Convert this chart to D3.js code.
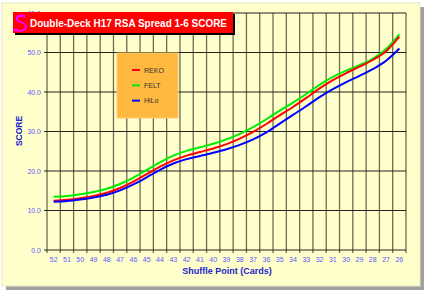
<!DOCTYPE html>
<html>
<head>
<title>Double-Deck H17 RSA Spread 1-6 SCORE</title>
<script src="https://d3js.org/d3.v7.min.js"></script>
<style>
  body { margin: 0; background: #fff; }
  svg { display: block; font-family: Arial, "Liberation Sans", sans-serif; }
</style>
</head>
<body>
<svg id="chart" width="427" height="294"></svg>
<script>
// shuffle points, left to right
const cards = [52, 51, 50, 49, 48, 47, 46, 45, 44, 43, 42, 41, 40, 39, 38, 37, 36, 35, 34, 33, 32, 31, 30, 29, 28, 27, 26];

const reko = [12.5, 12.7, 13.1, 13.7, 14.5, 15.7, 17.3, 19.2, 21.1, 22.7, 23.9, 24.8, 25.7, 26.8, 28.2, 29.9, 31.9, 34.1, 36.2, 38.5, 40.9, 43.0, 44.8, 46.4, 48.1, 50.3, 54.0];
const felt = [13.5, 13.7, 14.1, 14.7, 15.5, 16.7, 18.3, 20.3, 22.2, 23.9, 25.1, 26.0, 26.9, 28.0, 29.4, 31.1, 33.1, 35.3, 37.3, 39.5, 41.8, 43.8, 45.4, 46.8, 48.4, 50.9, 54.6];
const hilo = [12.2, 12.4, 12.8, 13.3, 14.0, 15.1, 16.6, 18.4, 20.3, 21.9, 23.0, 23.8, 24.6, 25.5, 26.6, 28.0, 29.8, 32.0, 34.2, 36.4, 38.7, 40.7, 42.5, 44.1, 45.8, 47.9, 51.0];

const seriesNames = ['REKO', 'FELT', 'HiLo'];
const seriesColors = ['#ff0000', '#00ee00', '#0000ff'];
const yTicks = [0, 10, 20, 30, 40, 50, 60];

const svg = d3.select('#chart');
const m = { left: 47, right: 406, top: 13, bottom: 250 };

// outer frame with shadow
svg.append('rect').attr('x', 6).attr('y', 7).attr('width', 418).attr('height', 283).attr('fill', '#a0a0a0');
svg.append('rect').attr('x', 2).attr('y', 3).attr('width', 418).attr('height', 283)
    .attr('fill', '#ffffcc').attr('stroke', '#e8e8c0');

const x = d3.scaleBand().domain(cards).range([m.left, m.right]);
const y = d3.scaleLinear().domain([0, 60]).range([m.bottom, m.top]);

const grid = svg.append('g');
// vertical gridlines at band edges
const edges = cards.map(c => x(c)).concat([m.right]);
grid.selectAll('line.v').data(edges).join('line')
    .attr('x1', d => d).attr('x2', d => d)
    .attr('y1', m.top).attr('y2', m.bottom + 3)
    .attr('stroke', '#6e6a4c').attr('stroke-width', 1.3);
// horizontal gridlines
grid.selectAll('line.h').data(yTicks).join('line')
    .attr('x1', m.left - 3).attr('x2', m.right)
    .attr('y1', d => y(d)).attr('y2', d => y(d))
    .attr('stroke', '#222').attr('stroke-width', 1);

// y tick labels
svg.append('g').selectAll('text').data(yTicks).join('text')
    .attr('x', 41).attr('y', d => y(d) + 2.5)
    .attr('text-anchor', 'end')
    .attr('font-size', 7).attr('fill', '#5a5aff')
    .text(d => d.toFixed(1));

// x tick labels
svg.append('g').selectAll('text').data(cards).join('text')
    .attr('x', d => x(d) + x.bandwidth() / 2).attr('y', 262)
    .attr('text-anchor', 'middle')
    .attr('font-size', 7).attr('fill', '#5a5aff')
    .text(d => d);

// axis titles
svg.append('text')
    .attr('transform', 'translate(22,131) rotate(-90)')
    .attr('text-anchor', 'middle')
    .attr('font-size', 8.5).attr('font-weight', 'bold').attr('fill', '#2222cc')
    .text('SCORE');
svg.append('text')
    .attr('x', 227).attr('y', 274)
    .attr('text-anchor', 'middle')
    .attr('font-size', 9).attr('font-weight', 'bold').attr('fill', '#2222cc')
    .text('Shuffle Point (Cards)');

// lines
const line = d3.line()
    .x((d, i) => x(cards[i]) + x.bandwidth() / 2)
    .y(d => y(d))
    .curve(d3.curveMonotoneX);
[[felt, 1], [reko, 0], [hilo, 2]].forEach(([vals, idx]) => {
    svg.append('path').datum(vals)
        .attr('d', line)
        .attr('fill', 'none')
        .attr('stroke', seriesColors[idx])
        .attr('stroke-width', 2);
});

// legend
const lg = svg.append('g');
lg.append('rect').attr('x', 117).attr('y', 53).attr('width', 61).attr('height', 65)
    .attr('fill', '#ffb941').attr('stroke', '#ffcc66');
seriesNames.forEach((name, i) => {
    const ly = 70 + i * 15.3;
    lg.append('line').attr('x1', 132).attr('x2', 140).attr('y1', ly).attr('y2', ly)
        .attr('stroke', seriesColors[i]).attr('stroke-width', 2);
    lg.append('text').attr('x', 144).attr('y', ly + 2.5)
        .attr('font-size', 7).attr('fill', '#333')
        .text(name);
});

// title box
svg.append('rect').attr('x', 15).attr('y', 14).attr('width', 220).attr('height', 21).attr('fill', '#000');
svg.append('rect').attr('x', 13).attr('y', 12).attr('width', 220).attr('height', 21).attr('fill', '#ff0000');
svg.append('path')
    .attr('d', 'M25,15 C18,13 13,17 17,21 C20,24 26,23 25,27 C24,31 17,30 14,28 L14,31 C20,33 28,31 27,26 C26,22 20,22 18,19 C17,17 22,16 25,18 Z')
    .attr('fill', '#ff00ff');
svg.append('text')
    .attr('x', 30).attr('y', 26.5)
    .attr('font-size', 10.2).attr('font-weight', 'bold').attr('fill', '#fff')
    .attr('textLength', 197).attr('lengthAdjust', 'spacingAndGlyphs')
    .text('Double-Deck H17 RSA Spread 1-6 SCORE');
</script>
</body>
</html>
